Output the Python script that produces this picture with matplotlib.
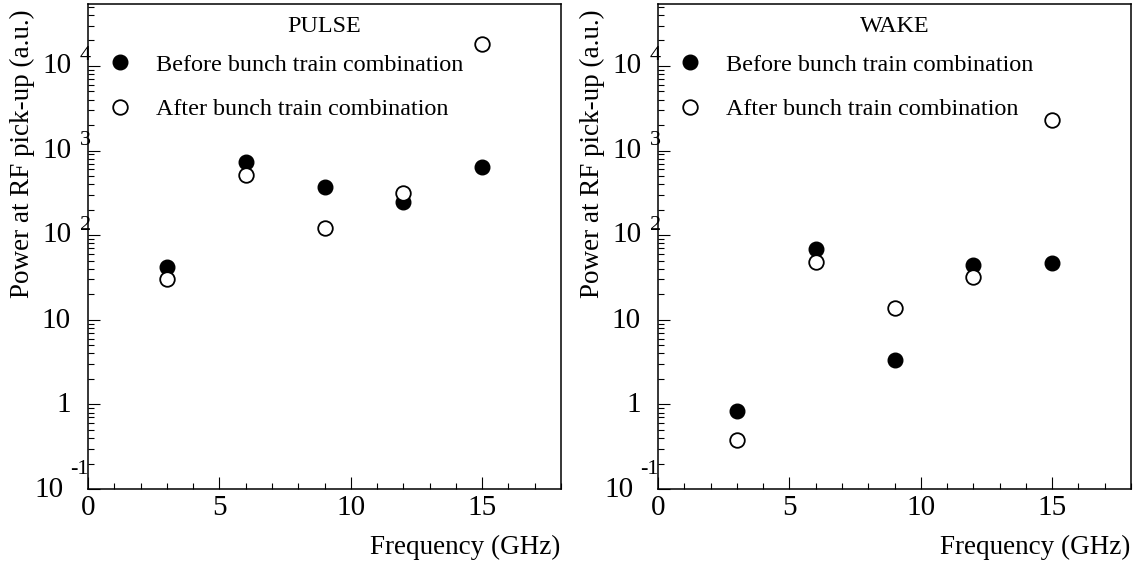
import matplotlib
matplotlib.use("Agg")
import matplotlib.pyplot as plt
from matplotlib.ticker import MultipleLocator, LogLocator, NullFormatter, FixedLocator
from matplotlib.transforms import blended_transform_factory, offset_copy

plt.rcParams['font.family'] = ['Liberation Serif', 'DejaVu Serif']

# ---- data ----
freq = [3, 6, 9, 12, 15]
pulse_before = [42, 740, 372, 244, 634]
pulse_after = [30.6, 514, 121, 312, 18000]
wake_before = [0.83, 68, 3.37, 45, 47.5]
wake_after = [0.376, 48, 13.9, 32, 2300]

panel_titles = ["PULSE", "WAKE"]
legend_labels = ["Before bunch train combination", "After bunch train combination"]
xlabel = "Frequency (GHz)"
ylabel = "Power at RF pick-up (a.u.)"
xtick_vals = [0, 5, 10, 15]
ytick_vals = [1e-1, 1, 10, 1e2, 1e3, 1e4]
ytick_base = ["10", "1", "10", "10", "10", "10"]
ytick_exp = ["-1", "", "", "2", "3", "4"]

W, H = 1136, 564
fig = plt.figure(figsize=(W / 100, H / 100), dpi=100)

panels = [
    (88, 561, pulse_before, pulse_after, panel_titles[0]),
    (658, 1131, wake_before, wake_after, panel_titles[1]),
]
ax_top_px, ax_bot_px = 4, 489
TICK_FS = 21
EXP_FS = 16

for (xl, xr, before, after, title) in panels:
    ax = fig.add_axes([xl / W, (H - ax_bot_px) / H, (xr - xl) / W, (ax_bot_px - ax_top_px) / H])
    ax.set_yscale('log')
    ax.set_xlim(0, 18)
    ax.set_ylim(0.1, 5.4e4)

    l1, = ax.plot(freq, before, linestyle='none', marker='o', markersize=10.5,
                  markerfacecolor='black', markeredgecolor='black', markeredgewidth=1.0,
                  label=legend_labels[0])
    l2, = ax.plot(freq, after, linestyle='none', marker='o', markersize=10.5,
                  markerfacecolor='white', markeredgecolor='black', markeredgewidth=1.3,
                  label=legend_labels[1])

    for sp in ['left', 'bottom', 'right', 'top']:
        ax.spines[sp].set_linewidth(1.1)

    # x ticks
    ax.xaxis.set_major_locator(FixedLocator(xtick_vals))
    ax.xaxis.set_minor_locator(MultipleLocator(1))
    ax.set_xticklabels([str(v) for v in xtick_vals])
    ax.tick_params(axis='x', which='major', direction='in', length=8.6, width=0.8,
                   labelsize=TICK_FS, pad=4, top=False)
    ax.tick_params(axis='x', which='minor', direction='in', length=4.6, width=0.8, top=False)

    # y ticks
    ax.yaxis.set_major_locator(FixedLocator(ytick_vals))
    ax.yaxis.set_minor_locator(LogLocator(base=10, subs=range(2, 10), numticks=20))
    ax.yaxis.set_major_formatter(NullFormatter())
    ax.yaxis.set_minor_formatter(NullFormatter())
    ax.tick_params(axis='y', which='major', direction='in', length=8.6, width=0.8, right=False)
    ax.tick_params(axis='y', which='minor', direction='in', length=4.3, width=0.8, right=False)

    trans = blended_transform_factory(ax.transAxes, ax.transData)
    for v, b, e in zip(ytick_vals, ytick_base, ytick_exp):
        if e.startswith('-'):
            ax.text(0, v, b, transform=offset_copy(trans, fig, x=-24, y=-1, units='dots'),
                    ha='right', va='center', fontsize=TICK_FS)
            ax.text(0, v, e, transform=offset_copy(trans, fig, x=1, y=20, units='dots'),
                    ha='right', va='center', fontsize=EXP_FS)
        elif e:
            ax.text(0, v, b, transform=offset_copy(trans, fig, x=-16, y=0, units='dots'),
                    ha='right', va='center', fontsize=TICK_FS)
            ax.text(0, v, e, transform=offset_copy(trans, fig, x=-8, y=10, units='dots'),
                    ha='left', va='center', fontsize=EXP_FS)
        else:
            ax.text(0, v, b, transform=offset_copy(trans, fig, x=-17, y=-1, units='dots'),
                    ha='right', va='center', fontsize=TICK_FS)

    # title
    ax.text(0.5, 1 - 22 / 485, title, transform=ax.transAxes, ha='center', va='center',
            fontsize=17.4)

    # legend
    ax.legend(handles=[l1, l2], loc='upper left', bbox_to_anchor=(0.042, 0.897),
              frameon=False, fontsize=17.4, handlelength=1.0, handletextpad=0.99,
              labelspacing=0.93, borderpad=0, borderaxespad=0, numpoints=1)

    # axis titles
    fig.text((xr - 1) / W, 1 - 547 / H, xlabel, ha='right', va='center', fontsize=19.5)
    fig.text((xl - 66) / W, 1 - 9 / H, ylabel, ha='center', va='top', rotation=90,
             fontsize=19.5)

fig.savefig("out.png", dpi=100)
